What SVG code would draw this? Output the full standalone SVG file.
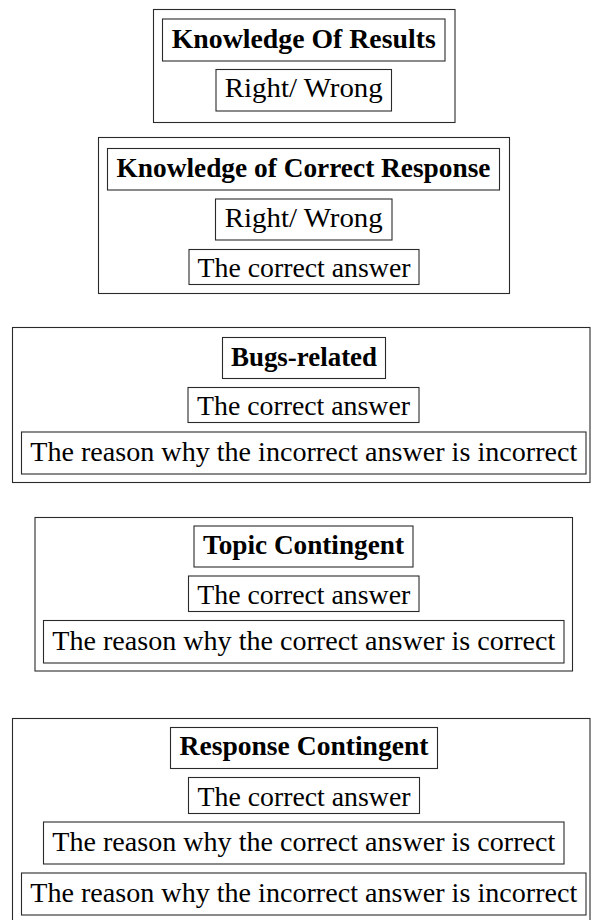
<svg xmlns="http://www.w3.org/2000/svg" width="596" height="920" viewBox="0 0 596 920">
  <style>
    rect { fill: none; stroke: #2a2a2a; stroke-width: 1.1; }
    text { font-family: "Liberation Serif", "DejaVu Serif", serif; font-size: 28px; fill: #000; text-anchor: middle; }
    .t { font-weight: bold; }
  </style>
  <rect x="0" y="0" width="596" height="920" style="fill:#fff;stroke:none"/>

  <!-- Knowledge Of Results -->
  <g id="kor">
    <rect x="153.5" y="9.5" width="301.5" height="113"/>
    <rect x="162.5" y="19" width="282.5" height="42"/>
    <text class="t" x="303.75" y="47.5" textLength="264" lengthAdjust="spacingAndGlyphs">Knowledge Of Results</text>
    <rect x="216" y="69.5" width="175.5" height="41.5"/>
    <text x="303.75" y="97" textLength="158" lengthAdjust="spacingAndGlyphs">Right/ Wrong</text>
  </g>

  <!-- Knowledge of Correct Response -->
  <g id="kcr">
    <rect x="98.5" y="137.5" width="411" height="156"/>
    <rect x="107.5" y="148.5" width="392" height="41.5"/>
    <text class="t" x="303.5" y="176.5" textLength="374" lengthAdjust="spacingAndGlyphs">Knowledge of Correct Response</text>
    <rect x="215.5" y="199" width="176.5" height="41"/>
    <text x="303.75" y="226.5" textLength="158" lengthAdjust="spacingAndGlyphs">Right/ Wrong</text>
    <rect x="189" y="249.5" width="230" height="35"/>
    <text x="304" y="277" textLength="213" lengthAdjust="spacingAndGlyphs">The correct answer</text>
  </g>

  <!-- Bugs-related -->
  <g id="bugs">
    <rect x="12.5" y="327.5" width="577.5" height="155"/>
    <rect x="222.5" y="337.5" width="163" height="41"/>
    <text class="t" x="304" y="365.5" textLength="146" lengthAdjust="spacingAndGlyphs">Bugs-related</text>
    <rect x="188" y="387.5" width="231" height="35"/>
    <text x="303.5" y="415" textLength="213" lengthAdjust="spacingAndGlyphs">The correct answer</text>
    <rect x="21.5" y="432" width="564.5" height="42"/>
    <text x="303.75" y="460.5" textLength="547" lengthAdjust="spacingAndGlyphs">The reason why the incorrect answer is incorrect</text>
  </g>

  <!-- Topic Contingent -->
  <g id="topic">
    <rect x="35" y="517.5" width="537.5" height="153.5"/>
    <rect x="194" y="526" width="219" height="41"/>
    <text class="t" x="303.5" y="553.5" textLength="201" lengthAdjust="spacingAndGlyphs">Topic Contingent</text>
    <rect x="188.5" y="576" width="230.5" height="35.5"/>
    <text x="303.75" y="604" textLength="213" lengthAdjust="spacingAndGlyphs">The correct answer</text>
    <rect x="43.5" y="620.5" width="520.5" height="42.5"/>
    <text x="303.75" y="649.5" textLength="503" lengthAdjust="spacingAndGlyphs">The reason why the correct answer is correct</text>
  </g>

  <!-- Response Contingent -->
  <g id="response">
    <rect x="12.5" y="718.5" width="577.5" height="210"/>
    <rect x="170.5" y="727.5" width="267" height="41"/>
    <text class="t" x="304" y="755" textLength="249" lengthAdjust="spacingAndGlyphs">Response Contingent</text>
    <rect x="188.5" y="777.5" width="231" height="36"/>
    <text x="304" y="805.5" textLength="213" lengthAdjust="spacingAndGlyphs">The correct answer</text>
    <rect x="43.5" y="822" width="520.5" height="42"/>
    <text x="303.75" y="850.5" textLength="503" lengthAdjust="spacingAndGlyphs">The reason why the correct answer is correct</text>
    <rect x="21.5" y="873" width="564.5" height="42"/>
    <text x="303.75" y="901.5" textLength="547" lengthAdjust="spacingAndGlyphs">The reason why the incorrect answer is incorrect</text>
  </g>

  <g id="connectors"></g>
</svg>
